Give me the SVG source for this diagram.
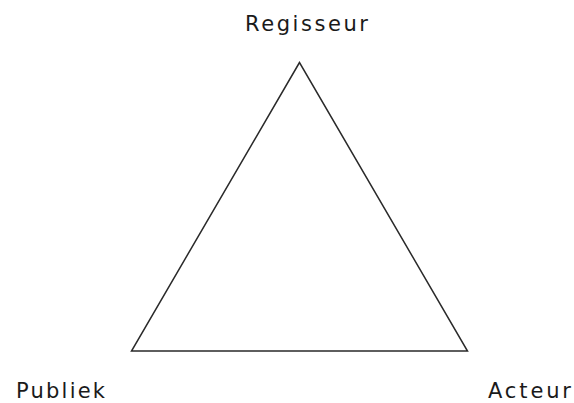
<svg xmlns="http://www.w3.org/2000/svg" width="574" height="403" viewBox="0 0 574 403">
<style>
.lbl{font-family:"DejaVu Sans",Verdana,sans-serif;font-size:21px;fill:#1a1a1a}
.edge{fill:none;stroke:#2a2a2a;stroke-width:1.5;stroke-linejoin:miter}
</style>
<rect width="574" height="403" fill="#ffffff"/>
<g id="connectors">
<polygon class="edge" points="299.5,62.5 131.5,351 467.5,351"/>
</g>
<g id="regisseur"><text class="lbl" x="245" y="31" textLength="123" lengthAdjust="spacing">Regisseur</text></g>
<g id="publiek"><text class="lbl" x="16" y="398" textLength="89" lengthAdjust="spacing">Publiek</text></g>
<g id="acteur"><text class="lbl" x="488" y="398" textLength="83" lengthAdjust="spacing">Acteur</text></g>
</svg>
